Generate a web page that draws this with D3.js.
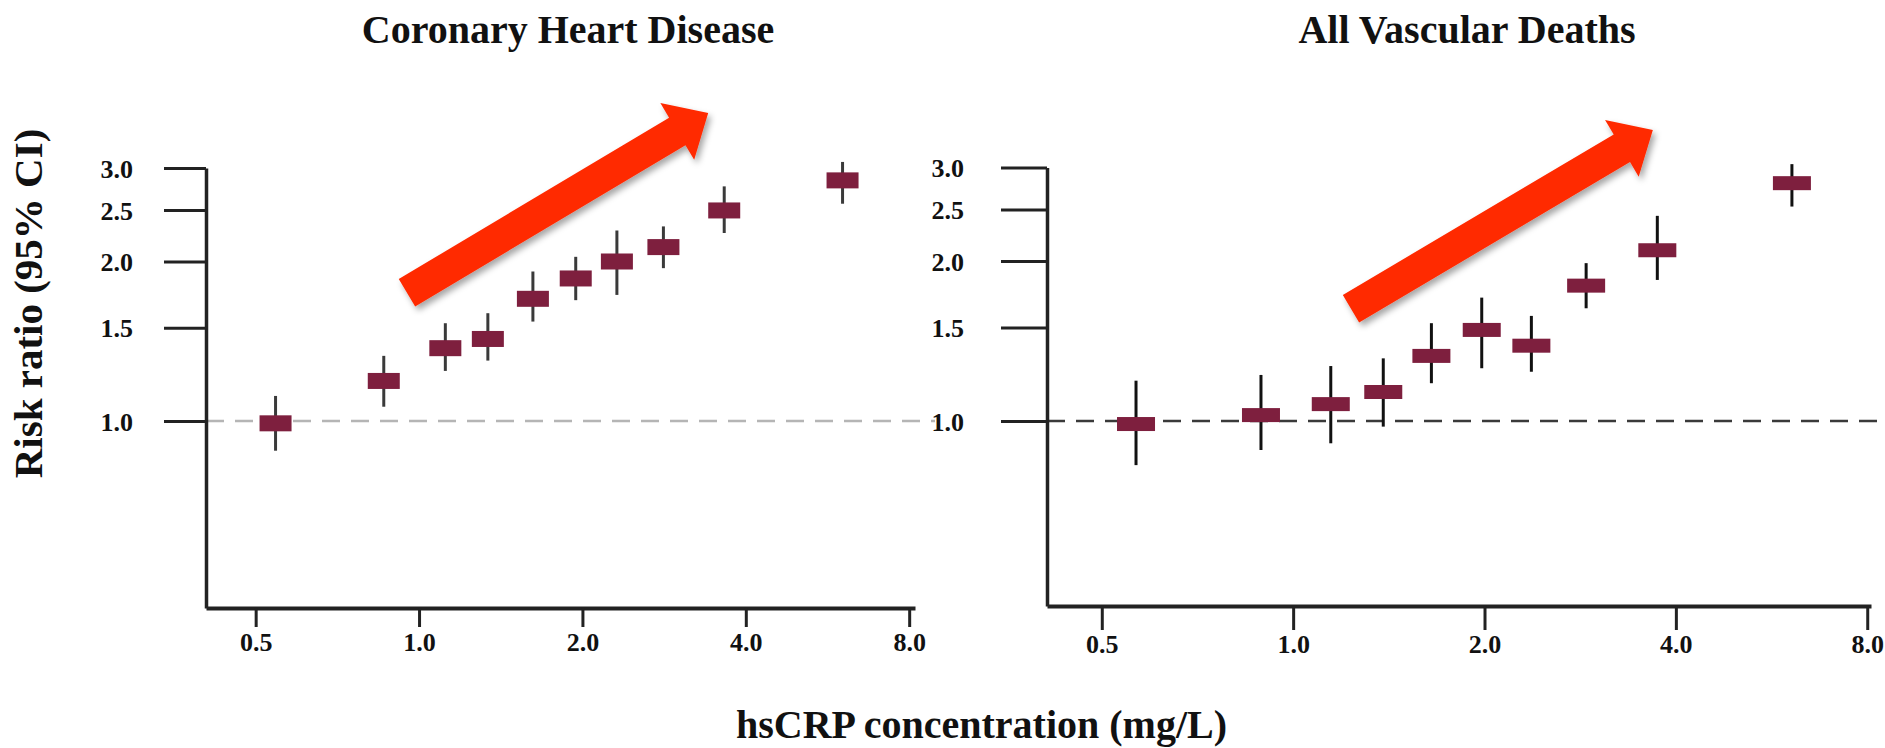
<!DOCTYPE html>
<html><head><meta charset="utf-8">
<script src="https://cdn.jsdelivr.net/npm/d3@7"></script>
<style>
html,body{margin:0;padding:0;background:#fff;}
svg{display:block;}
text{font-family:"Liberation Serif","Times New Roman",serif;font-weight:bold;fill:#111;}
</style></head>
<body>
<script>
// ---- data ----
const xTicks = [0.5, 1, 2, 4, 8];
const yTicks = [1.0, 1.5, 2.0, 2.5, 3.0];
const titles = ["Coronary Heart Disease", "All Vascular Deaths"];
const yLabel = "Risk ratio (95% CI)";
const xLabel = "hsCRP concentration (mg/L)";

const chdCRP = [0.544, 0.861, 1.118, 1.339, 1.621, 1.944, 2.315, 2.82, 3.65, 6.03];
const chdRR  = [0.99, 1.19, 1.372, 1.428, 1.70, 1.857, 1.999, 2.128, 2.495, 2.843];
const chdLo  = [0.879, 1.064, 1.243, 1.30, 1.54, 1.69, 1.729, 1.942, 2.262, 2.569];
const chdHi  = [1.115, 1.327, 1.529, 1.597, 1.914, 2.04, 2.287, 2.328, 2.77, 3.08];

const vasCRP = [0.566, 0.89, 1.146, 1.386, 1.65, 1.98, 2.37, 2.89, 3.74, 6.09];
const vasRR  = [0.987, 1.026, 1.076, 1.134, 1.326, 1.484, 1.386, 1.798, 2.096, 2.803];
const vasLo  = [0.826, 0.882, 0.908, 0.976, 1.178, 1.257, 1.238, 1.63, 1.843, 2.533];
const vasHi  = [1.191, 1.221, 1.269, 1.312, 1.528, 1.707, 1.577, 1.982, 2.433, 3.044];

// trend arrows in data units: [crp, rr] tail -> tip
const chdArrow = [[0.95, 1.745], [3.41, 3.81]];
const vasArrow = [[1.233, 1.627], [3.68, 3.53]];

// ---- layout ----
const W = 1885, H = 748;
const svg = d3.select("body").append("svg").attr("width", W).attr("height", H);
const defs = svg.append("defs");
const f = defs.append("filter").attr("id","shadow").attr("x","-20%").attr("y","-20%").attr("width","140%").attr("height","140%");
f.append("feDropShadow").attr("dx",3).attr("dy",4).attr("stdDeviation",3).attr("flood-color","#000").attr("flood-opacity",0.35);

const panels = [
  {title: titles[0], cx: 568, crp: chdCRP, rr: chdRR, lo: chdLo, hi: chdHi, arrow: chdArrow,
   xDom: [0.405, 8.2], xRange: [206, 915], yDom: [0.444, 3], yRange: [608, 168],
   yTick: 42, yPad: 31, xTick: 19, xLabY: 43, dashColor: "#b5b5b5", dashEnd: 935,
   ciColor: "#3a3a3a", boxW: 32, boxH: 16},
  {title: titles[1], cx: 1467, crp: vasCRP, rr: vasRR, lo: vasLo, hi: vasHi, arrow: vasArrow,
   xDom: [0.41, 8.11], xRange: [1047, 1871], yDom: [0.4486, 3], yRange: [606, 167.5],
   yTick: 46, yPad: 37, xTick: 24, xLabY: 47, dashColor: "#3a3a3a", dashEnd: 1885,
   ciColor: "#111", boxW: 38, boxH: 14}
];

panels.forEach(p => {
  const x = d3.scaleLog().base(2).domain(p.xDom).range(p.xRange);
  const y = d3.scaleLog().domain(p.yDom).range(p.yRange);
  const g = svg.append("g");

  // title
  g.append("text").attr("x", p.cx).attr("y", 43).attr("text-anchor","middle")
    .style("font-size","40px").text(p.title);

  // reference line at RR = 1
  g.append("line").attr("x1", p.xRange[0]).attr("x2", p.dashEnd)
    .attr("y1", y(1)).attr("y2", y(1))
    .attr("stroke", p.dashColor).attr("stroke-width", 2.5).attr("stroke-dasharray","18,11");

  // y axis
  const ya = g.append("g").attr("transform", `translate(${p.xRange[0]},0)`)
    .call(d3.axisLeft(y).tickValues(yTicks).tickFormat(d3.format(".1f"))
      .tickSize(p.yTick).tickSizeOuter(0).tickPadding(p.yPad));
  ya.select(".domain").attr("stroke","#222").attr("stroke-width",3.5);
  ya.selectAll(".tick line").attr("stroke","#222").attr("stroke-width",3);
  ya.selectAll(".tick text").style("font-size","26px").style("font-family",'"Liberation Serif",serif')
    .style("font-weight","bold").attr("fill","#111").attr("dy","0.35em");

  // x axis
  const xa = g.append("g").attr("transform", `translate(0,${p.yRange[0]})`)
    .call(d3.axisBottom(x).tickValues(xTicks).tickFormat(d3.format(".1f"))
      .tickSize(p.xTick).tickSizeOuter(0));
  xa.select(".domain").attr("stroke","#222").attr("stroke-width",4);
  xa.selectAll(".tick line").attr("stroke","#222").attr("stroke-width",3);
  xa.selectAll(".tick text").style("font-size","26px").style("font-family",'"Liberation Serif",serif')
    .style("font-weight","bold").attr("fill","#111").attr("y", p.xLabY).attr("dy", 0);

  // points
  const pts = p.crp.map((c, i) => ({c, rr: p.rr[i], lo: p.lo[i], hi: p.hi[i]}));
  g.selectAll(".ci").data(pts).join("line")
    .attr("x1", d => x(d.c)).attr("x2", d => x(d.c))
    .attr("y1", d => y(d.lo)).attr("y2", d => y(d.hi))
    .attr("stroke", p.ciColor).attr("stroke-width", 3);
  g.selectAll(".box").data(pts).join("rect")
    .attr("x", d => x(d.c) - p.boxW/2).attr("y", d => y(d.rr) - p.boxH/2)
    .attr("width", p.boxW).attr("height", p.boxH)
    .attr("fill", "#7e1f3e");

  // arrow
  const [t0, t1] = p.arrow;
  const ax0 = x(t0[0]), ay0 = y(t0[1]), ax1 = x(t1[0]), ay1 = y(t1[1]);
  const dx = ax1 - ax0, dy = ay1 - ay0, L = Math.hypot(dx, dy);
  const ux = dx / L, uy = dy / L, nx = -uy, ny = ux;
  const sw = 16, hw = 33, hl = 36;
  const bx = ax1 - ux * hl, by = ay1 - uy * hl;
  const poly = [
    [ax0 + nx*sw, ay0 + ny*sw], [bx + nx*sw, by + ny*sw], [bx + nx*hw, by + ny*hw],
    [ax1, ay1],
    [bx - nx*hw, by - ny*hw], [bx - nx*sw, by - ny*sw], [ax0 - nx*sw, ay0 - ny*sw]
  ];
  g.append("path").attr("d", d3.line()(poly) + "Z").attr("fill", "#ff2a00")
    .attr("filter","url(#shadow)");
});

// shared axis labels
svg.append("text").attr("transform","translate(42,303.5) rotate(-90)")
  .attr("text-anchor","middle").style("font-size","41px").text(yLabel);
svg.append("text").attr("x", 981.5).attr("y", 738).attr("text-anchor","middle")
  .style("font-size","40px").text(xLabel);
</script>
</body></html>
